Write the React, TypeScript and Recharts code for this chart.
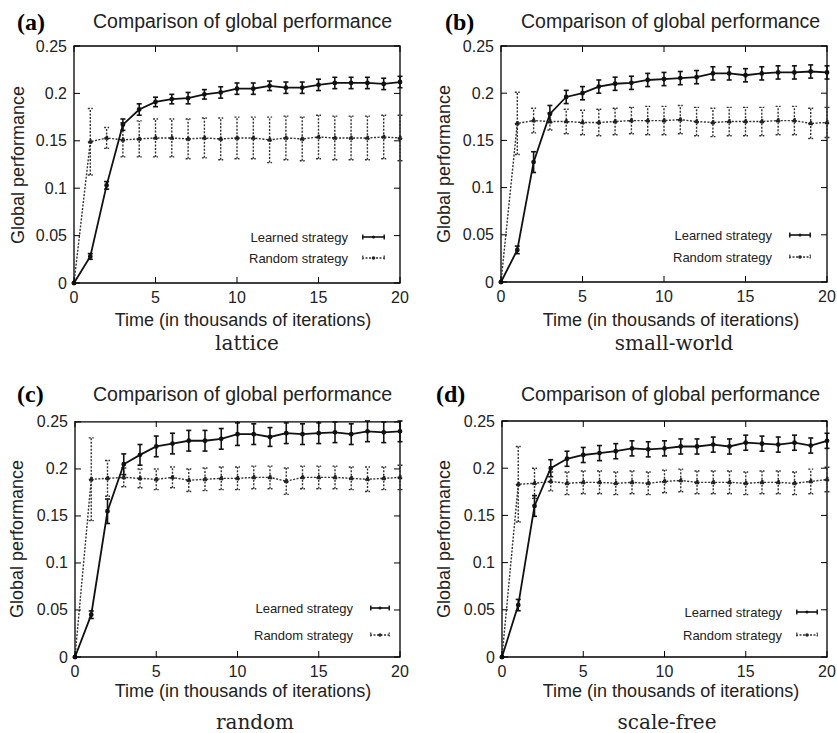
import { LineChart, Line, XAxis, YAxis, ErrorBar, ReferenceArea } from 'recharts'

const iterations = [0, 1, 2, 3, 4, 5, 6, 7, 8, 9, 10, 11, 12, 13, 14, 15, 16, 17, 18, 19, 20]
const xTicks = [0, 5, 10, 15, 20]
const yTicks = [0, 0.05, 0.1, 0.15, 0.2, 0.25]

// (a) lattice
const latticeLearned = [0, 0.028, 0.103, 0.167, 0.183, 0.191, 0.194, 0.195, 0.199, 0.201, 0.205, 0.205, 0.208, 0.206, 0.206, 0.209, 0.211, 0.211, 0.211, 0.210, 0.212]
const latticeLearnedErr = [0, 0.003, 0.004, 0.006, 0.006, 0.005, 0.005, 0.006, 0.005, 0.006, 0.006, 0.006, 0.005, 0.006, 0.006, 0.006, 0.006, 0.006, 0.006, 0.006, 0.006]
const latticeRandom = [0, 0.149, 0.153, 0.151, 0.152, 0.153, 0.153, 0.152, 0.153, 0.152, 0.153, 0.153, 0.151, 0.153, 0.152, 0.154, 0.153, 0.153, 0.153, 0.154, 0.153]
const latticeRandomErr = [0, 0.035, 0.011, 0.018, 0.019, 0.02, 0.02, 0.021, 0.021, 0.022, 0.022, 0.022, 0.024, 0.023, 0.023, 0.023, 0.023, 0.023, 0.023, 0.023, 0.024]

// (b) small-world
const smallWorldLearned = [0, 0.034, 0.127, 0.178, 0.196, 0.2, 0.207, 0.21, 0.211, 0.214, 0.215, 0.216, 0.217, 0.221, 0.221, 0.219, 0.221, 0.222, 0.222, 0.223, 0.222]
const smallWorldLearnedErr = [0, 0.004, 0.011, 0.009, 0.007, 0.007, 0.007, 0.007, 0.007, 0.007, 0.007, 0.007, 0.007, 0.007, 0.007, 0.007, 0.007, 0.007, 0.007, 0.007, 0.007]
const smallWorldRandom = [0, 0.168, 0.171, 0.17, 0.17, 0.169, 0.169, 0.17, 0.171, 0.171, 0.171, 0.172, 0.17, 0.169, 0.17, 0.17, 0.17, 0.171, 0.171, 0.168, 0.169]
const smallWorldRandomErr = [0, 0.033, 0.013, 0.009, 0.013, 0.013, 0.014, 0.014, 0.014, 0.015, 0.015, 0.015, 0.015, 0.015, 0.015, 0.015, 0.015, 0.015, 0.015, 0.016, 0.016]

// (c) random
const randomLearned = [0, 0.045, 0.155, 0.205, 0.215, 0.224, 0.227, 0.23, 0.23, 0.232, 0.237, 0.237, 0.234, 0.238, 0.237, 0.238, 0.239, 0.237, 0.24, 0.239, 0.24]
const randomLearnedErr = [0, 0.004, 0.013, 0.011, 0.011, 0.011, 0.011, 0.011, 0.011, 0.011, 0.012, 0.011, 0.01, 0.011, 0.011, 0.011, 0.011, 0.011, 0.011, 0.011, 0.011]
const randomRandom = [0, 0.189, 0.19, 0.191, 0.19, 0.189, 0.191, 0.188, 0.189, 0.19, 0.19, 0.191, 0.191, 0.187, 0.191, 0.191, 0.191, 0.19, 0.189, 0.19, 0.191]
const randomRandomErr = [0, 0.044, 0.019, 0.01, 0.01, 0.011, 0.011, 0.012, 0.012, 0.012, 0.012, 0.012, 0.012, 0.014, 0.012, 0.012, 0.012, 0.012, 0.013, 0.012, 0.013]

// (d) scale-free
const scaleFreeLearned = [0, 0.055, 0.16, 0.2, 0.21, 0.214, 0.216, 0.218, 0.221, 0.22, 0.221, 0.223, 0.223, 0.225, 0.223, 0.227, 0.226, 0.225, 0.227, 0.224, 0.229]
const scaleFreeLearnedErr = [0, 0.006, 0.011, 0.009, 0.008, 0.008, 0.008, 0.008, 0.008, 0.008, 0.008, 0.008, 0.008, 0.008, 0.008, 0.008, 0.008, 0.008, 0.008, 0.008, 0.008]
const scaleFreeRandom = [0, 0.183, 0.184, 0.186, 0.184, 0.185, 0.185, 0.184, 0.185, 0.184, 0.186, 0.187, 0.185, 0.185, 0.185, 0.184, 0.185, 0.185, 0.184, 0.186, 0.188]
const scaleFreeRandomErr = [0, 0.04, 0.016, 0.01, 0.012, 0.012, 0.012, 0.012, 0.012, 0.012, 0.012, 0.012, 0.012, 0.012, 0.012, 0.012, 0.012, 0.012, 0.012, 0.013, 0.013]

const TITLE = 'Comparison of global performance'
const X_LABEL = 'Time (in thousands of iterations)'
const Y_LABEL = 'Global performance'
const LEARNED = 'Learned strategy'
const RANDOM = 'Random strategy'

const SANS = '"Liberation Sans", Arial, sans-serif'
const SERIF = '"DejaVu Serif", serif'

// plot rectangles in page pixels + text anchors
const panels = [
  {
    tag: '(a)', caption: 'lattice',
    learned: latticeLearned, learnedErr: latticeLearnedErr, random: latticeRandom, randomErr: latticeRandomErr,
    plot: { l: 74, t: 46, r: 400, b: 283 },
    tagPos: [17, 22], titlePos: [93, 22], yLabelX: 18, xLabel: [243, 320], capPos: [247, 343],
    legend: { textR: 52, sampleL: 38, sampleR: 15, y1: 46, y2: 25 },
  },
  {
    tag: '(b)', caption: 'small-world',
    learned: smallWorldLearned, learnedErr: smallWorldLearnedErr, random: smallWorldRandom, randomErr: smallWorldRandomErr,
    plot: { l: 501, t: 46, r: 827, b: 282 },
    tagPos: [445, 22], titlePos: [521, 22], yLabelX: 444, xLabel: [671, 320], capPos: [674, 343],
    legend: { textR: 55, sampleL: 38, sampleR: 16, y1: 47, y2: 25 },
  },
  {
    tag: '(c)', caption: 'random',
    learned: randomLearned, learnedErr: randomLearnedErr, random: randomRandom, randomErr: randomRandomErr,
    plot: { l: 75, t: 421, r: 400, b: 657 },
    tagPos: [17, 394], titlePos: [93, 395], yLabelX: 17, xLabel: [243, 691], capPos: [255, 722],
    legend: { textR: 47, sampleL: 30, sampleR: 10, y1: 49, y2: 22 },
  },
  {
    tag: '(d)', caption: 'scale-free',
    learned: scaleFreeLearned, learnedErr: scaleFreeLearnedErr, random: scaleFreeRandom, randomErr: scaleFreeRandomErr,
    plot: { l: 502, t: 421, r: 827, b: 657 },
    tagPos: [436, 394], titlePos: [521, 395], yLabelX: 444, xLabel: [671, 691], capPos: [667, 722],
    legend: { textR: 45, sampleL: 31, sampleR: 9, y1: 45, y2: 22 },
  },
]

const Y_AXIS_W = 60
const M_LEFT = 14
const M_TOP = 46
const X_AXIS_H = 30
const M_BOTTOM = 10
const TICK = 6

type PanelCfg = (typeof panels)[number]

function Panel({ cfg }: { cfg: PanelCfg }) {
  const { plot } = cfg
  const boxLeft = plot.l - (Y_AXIS_W + M_LEFT)
  const boxTop = plot.t - M_TOP
  const width = plot.r - boxLeft + 10
  const height = plot.b - boxTop + X_AXIS_H + M_BOTTOM
  // plot edges in chart coords
  const PL = Y_AXIS_W + M_LEFT
  const PR = width - 10
  const PT = M_TOP
  const PB = height - X_AXIS_H - M_BOTTOM

  const data = iterations.map((x, i) => ({
    x,
    learned: cfg.learned[i],
    learnedErr: cfg.learnedErr[i],
    random: cfg.random[i],
    randomErr: cfg.randomErr[i],
  }))

  const renderXTick = (props: any) => {
    const { x, payload } = props
    return (
      <g>
        <line x1={x} x2={x} y1={PB} y2={PB - TICK} stroke="#000" />
        <line x1={x} x2={x} y1={PT} y2={PT + TICK} stroke="#000" />
        <text x={x} y={PB + 14} textAnchor="middle" dominantBaseline="central" fontSize={16} fontFamily={SANS} fill="#222">
          {payload.value}
        </text>
      </g>
    )
  }

  const renderYTick = (props: any) => {
    const { y, payload } = props
    return (
      <g>
        <line x1={PL} x2={PL + TICK} y1={y} y2={y} stroke="#000" />
        <line x1={PR} x2={PR - TICK} y1={y} y2={y} stroke="#000" />
        <text x={PL - 7} y={y} textAnchor="end" dominantBaseline="central" fontSize={16} fontFamily={SANS} fill="#222">
          {payload.value}
        </text>
      </g>
    )
  }

  const lg = cfg.legend
  const textStyle = { position: 'absolute' as const, fontFamily: SANS, whiteSpace: 'nowrap' as const, color: '#222' }

  return (
    <>
      <div style={{ position: 'absolute', left: boxLeft, top: boxTop }}>
        <LineChart width={width} height={height} data={data} margin={{ top: M_TOP, right: 10, bottom: M_BOTTOM, left: M_LEFT }}>
          <XAxis dataKey="x" type="number" domain={[0, 20]} ticks={xTicks} axisLine={false} tickLine={false} height={X_AXIS_H} tick={renderXTick} interval={0} />
          <YAxis type="number" domain={[0, 0.25]} ticks={yTicks} axisLine={false} tickLine={false} width={Y_AXIS_W} tick={renderYTick} interval={0} />
          <ReferenceArea x1={0} x2={20} y1={0} y2={0.25} fill="none" stroke="#000" strokeWidth={1.3} />
          <Line
            dataKey="random"
            stroke="#333"
            strokeWidth={1.4}
            strokeDasharray="2 1.5"
            dot={{ r: 1.8, fill: '#222', stroke: '#222' }}
            isAnimationActive={false}
          >
            <ErrorBar dataKey="randomErr" direction="y" width={2.5} stroke="#333" strokeWidth={1.4} strokeDasharray="2 1.5" />
          </Line>
          <Line
            dataKey="learned"
            stroke="#111"
            strokeWidth={1.8}
            dot={{ r: 1.5, fill: '#111', stroke: '#111' }}
            isAnimationActive={false}
          >
            <ErrorBar dataKey="learnedErr" direction="y" width={2.5} stroke="#111" strokeWidth={1.6} />
          </Line>
        </LineChart>
      </div>

      {/* legend inside plot, gnuplot style */}
      <div style={{ ...textStyle, fontSize: 13, right: 837 - (plot.r - lg.textR), top: plot.b - lg.y1, transform: 'translateY(-50%)' }}>{LEARNED}</div>
      <div style={{ ...textStyle, fontSize: 13, right: 837 - (plot.r - lg.textR), top: plot.b - lg.y2, transform: 'translateY(-50%)' }}>{RANDOM}</div>
      <svg style={{ position: 'absolute', left: plot.r - lg.sampleL, top: plot.b - lg.y1 - 4 }} width={lg.sampleL - lg.sampleR} height={8}>
        <line x1={0} x2={lg.sampleL - lg.sampleR} y1={4} y2={4} stroke="#111" strokeWidth={1.6} />
        <line x1={0.8} x2={0.8} y1={1.5} y2={6.5} stroke="#111" strokeWidth={1.4} />
        <line x1={lg.sampleL - lg.sampleR - 0.8} x2={lg.sampleL - lg.sampleR - 0.8} y1={1.5} y2={6.5} stroke="#111" strokeWidth={1.4} />
        <circle cx={(lg.sampleL - lg.sampleR) / 2} cy={4} r={1.5} fill="#111" />
      </svg>
      <svg style={{ position: 'absolute', left: plot.r - lg.sampleL, top: plot.b - lg.y2 - 4 }} width={lg.sampleL - lg.sampleR} height={8}>
        <line x1={0} x2={lg.sampleL - lg.sampleR} y1={4} y2={4} stroke="#333" strokeWidth={1.4} strokeDasharray="2 1.5" />
        <line x1={0.8} x2={0.8} y1={1.5} y2={6.5} stroke="#333" strokeWidth={1.2} strokeDasharray="1.5 1" />
        <line x1={lg.sampleL - lg.sampleR - 0.8} x2={lg.sampleL - lg.sampleR - 0.8} y1={1.5} y2={6.5} stroke="#333" strokeWidth={1.2} strokeDasharray="1.5 1" />
        <circle cx={(lg.sampleL - lg.sampleR) / 2} cy={4} r={1.8} fill="#222" />
      </svg>

      {/* titles and labels */}
      <div style={{ position: 'absolute', left: cfg.tagPos[0], top: cfg.tagPos[1], transform: 'translateY(-50%)', fontFamily: '"Liberation Serif", "Times New Roman", serif', fontWeight: 'bold', fontSize: 24, lineHeight: 1 }}>{cfg.tag}</div>
      <div style={{ ...textStyle, left: cfg.titlePos[0], top: cfg.titlePos[1], transform: 'translateY(-50%)', fontSize: 19.5, lineHeight: 1 }}>{TITLE}</div>
      <div style={{ ...textStyle, left: cfg.yLabelX, top: (plot.t + plot.b) / 2, transform: 'translate(-50%, -50%) rotate(-90deg)', fontSize: 18, lineHeight: 1 }}>{Y_LABEL}</div>
      <div style={{ ...textStyle, left: cfg.xLabel[0], top: cfg.xLabel[1], transform: 'translate(-50%, -50%)', fontSize: 18, lineHeight: 1 }}>{X_LABEL}</div>
      <div style={{ position: 'absolute', left: cfg.capPos[0], top: cfg.capPos[1], transform: 'translate(-50%, -50%)', fontFamily: SERIF, fontSize: 20, lineHeight: 1, whiteSpace: 'nowrap', color: '#222' }}>{cfg.caption}</div>
    </>
  )
}

export default function App() {
  return (
    <div style={{ position: 'absolute', left: 0, top: 0, width: 837, height: 733, background: '#fff', overflow: 'hidden' }}>
      {panels.map((p) => (
        <Panel key={p.tag} cfg={p} />
      ))}
    </div>
  )
}
